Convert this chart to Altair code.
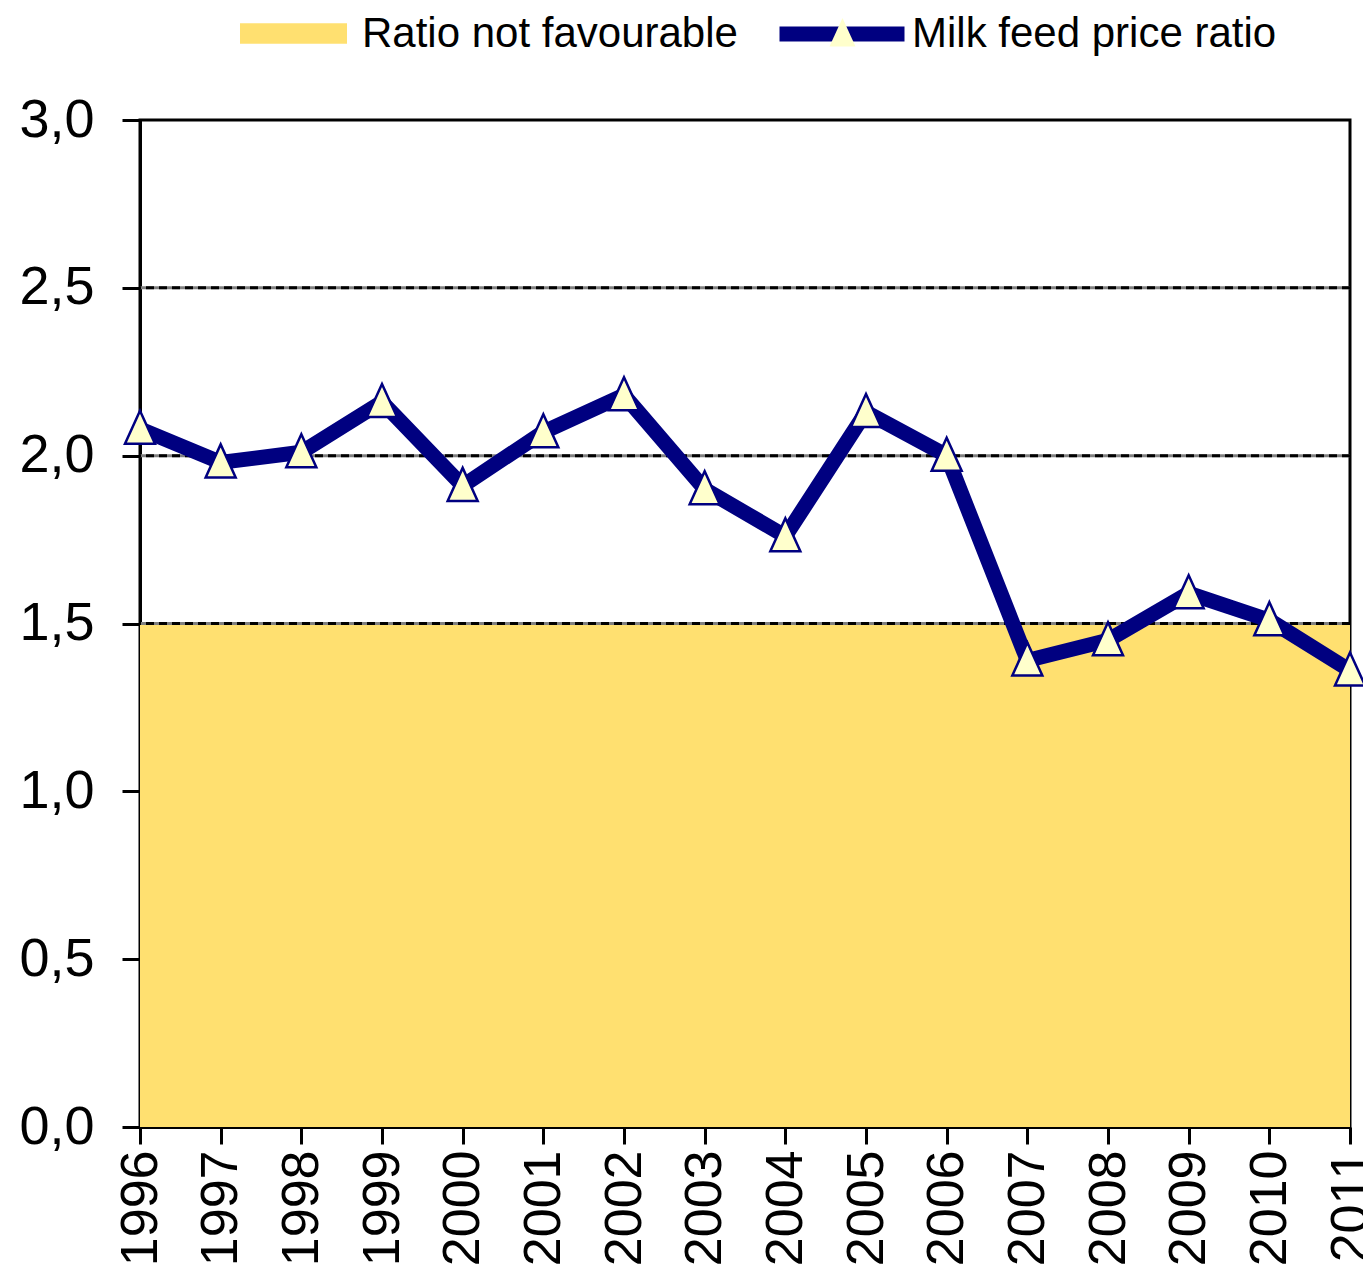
import altair as alt
import pandas as pd

# ---- data ----
years = ["1996", "1997", "1998", "1999", "2000", "2001", "2002", "2003",
         "2004", "2005", "2006", "2007", "2008", "2009", "2010", "2011"]
ratio = [2.08, 1.98, 2.01, 2.16, 1.91, 2.07, 2.18, 1.90,
         1.76, 2.13, 2.00, 1.39, 1.45, 1.59, 1.51, 1.36]
threshold = [1.5, 1.5, 1.5, 1.5, 1.5, 1.5, 1.5, 1.5,
             1.5, 1.5, 1.5, 1.5, 1.5, 1.5, 1.5, 1.5]
grid_values = [1.5, 2.0, 2.5]
y_ticks = [0.0, 0.5, 1.0, 1.5, 2.0, 2.5, 3.0]
area_label = "Ratio not favourable"
line_label = "Milk feed price ratio"
marker_key = "marker"

NAVY = "#000080"
MARKER_FILL = "#FFFFCC"
AREA_FILL = "#FFE070"
FONT = "Liberation Sans"
TRI = "M0,-1.2L-1,1L1,1Z"

df = pd.DataFrame({
    "year": years,
    "ratio": ratio,
    "thr": threshold,
    "zone": [area_label] * len(years),
    "series": [line_label] * len(years),
    "marker": [marker_key] * len(years),
})
gdf = pd.DataFrame({"g": grid_values})

yscale = alt.Scale(domain=[0, 3], nice=False, zero=True)
yaxis = alt.Axis(
    title=None, values=y_ticks, grid=False, tickSize=18, labelPadding=28,
    labelFontSize=54,
    labelExpr="replace(format(datum.value, '.1f'), '.', ',')",
)
x = alt.X(
    "year:O", scale=alt.Scale(type="point", padding=0),
    axis=alt.Axis(
        title=None, labelAngle=270, tickSize=17, labelPadding=6,
        labelFontSize=52, grid=False,
    ),
)

area = alt.Chart(df).mark_area(opacity=1).encode(
    x=x,
    y=alt.Y("thr:Q", scale=yscale, axis=yaxis, stack=None),
    fill=alt.Fill(
        "zone:N",
        scale=alt.Scale(domain=[area_label], range=[AREA_FILL]),
        legend=alt.Legend(
            orient="none", legendX=100, legendY=-140, title=None, padding=0,
            symbolType="M-1,-0.19H1V0.19H-1Z", symbolSize=11449,
            symbolStrokeWidth=0, symbolOpacity=1,
            labelFont=FONT, labelFontSize=42, labelColor="black",
            labelOffset=15, labelLimit=1000,
        ),
    ),
)

grid_gray = alt.Chart(gdf).mark_rule(color="#808080", strokeWidth=3).encode(
    y=alt.Y("g:Q", scale=yscale, axis=yaxis)
)
grid_black = alt.Chart(gdf).mark_rule(color="black", strokeWidth=3, strokeDash=[8, 5]).encode(
    y=alt.Y("g:Q", scale=yscale, axis=yaxis)
)

line = alt.Chart(df).mark_line(strokeWidth=15, strokeJoin="miter").encode(
    x=x,
    y=alt.Y("ratio:Q", scale=yscale, axis=yaxis),
    stroke=alt.Stroke(
        "series:N",
        scale=alt.Scale(domain=[line_label], range=[NAVY]),
        legend=alt.Legend(
            orient="none", legendX=632, legendY=-156, title=None, padding=0,
            symbolType="stroke", symbolSize=15625, symbolStrokeWidth=15,
            symbolStrokeColor=NAVY,
            labelFont=FONT, labelFontSize=42, labelColor="black",
            labelOffset=0, labelLimit=1000,
        ),
    ),
)

points = alt.Chart(df).mark_point(
    filled=True, fill=MARKER_FILL, stroke=NAVY, strokeWidth=2.5, size=900, opacity=1
).encode(
    x=x,
    y=alt.Y("ratio:Q", scale=yscale, axis=yaxis),
    shape=alt.Shape(
        "marker:N",
        scale=alt.Scale(domain=[marker_key], range=[TRI]),
        legend=alt.Legend(
            orient="none", legendX=688, legendY=-101, title=None, padding=0,
            symbolSize=676, symbolFillColor=MARKER_FILL, symbolStrokeColor=NAVY,
            symbolStrokeWidth=2.5, symbolOpacity=1,
            labelExpr="''", labelFontSize=1,
        ),
    ),
)

chart = alt.layer(area, grid_gray, grid_black, line, points).properties(
    width=1210, height=1007,
    autosize=alt.AutoSizeParams(type="none"),
    padding={"left": 132, "top": 112, "right": 13, "bottom": 150},
    background="white",
).configure_view(
    stroke="black", strokeWidth=3
).configure_axis(
    domainColor="black", domainWidth=3, tickColor="black", tickWidth=3,
    labelFont=FONT, labelColor="black",
)

chart.save("out.html", embed_options={"renderer": "svg", "actions": False})
